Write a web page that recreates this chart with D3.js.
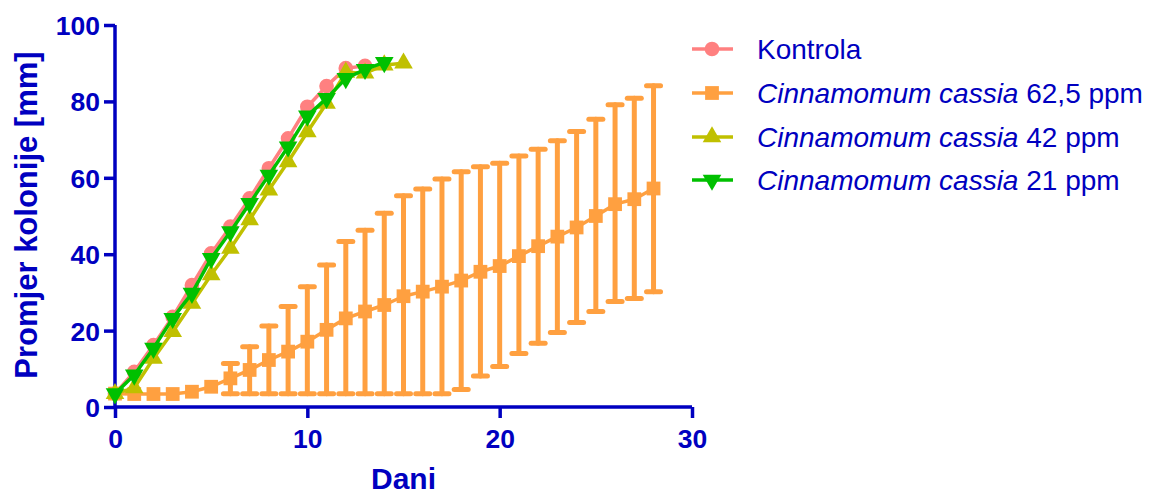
<!DOCTYPE html>
<html>
<head>
<meta charset="utf-8">
<script src="https://cdn.jsdelivr.net/npm/d3@7"></script>
<style>
  html, body { margin: 0; padding: 0; background: #fff; }
  svg { display: block; font-family: "Liberation Sans", Arial, sans-serif; }
</style>
</head>
<body>
<svg id="chart" width="1151" height="494"></svg>
<script>
// ---- data ----
const xTicks = [0, 10, 20, 30];
const yTicks = [0, 20, 40, 60, 80, 100];
const seriesNames = ["Kontrola", "Cinnamomum cassia|62,5 ppm", "Cinnamomum cassia|42 ppm", "Cinnamomum cassia|21 ppm"];

const kontrola = [3.5, 9.2, 16.2, 23.6, 31.9, 40.2, 47.2, 54.6, 62.5, 70.3, 78.6, 84.0, 88.7, 89.3];
const cc62 = [3.5, 3.4, 3.4, 3.4, 4.0, 5.3, 7.5, 9.7, 12.3, 14.5, 17.1, 20.2, 23.2, 25.0, 26.7, 29.0,
              30.2, 31.5, 33.1, 35.4, 36.9, 39.5, 42.1, 44.6, 47.0, 50.0, 53.1, 54.4, 57.2];
const cc62Hi = [null, null, null, null, null, null, 11.4, 15.8, 21.2, 26.3, 31.5, 37.2, 43.3, 46.3, 50.7, 55.3,
                57.1, 59.7, 61.6, 62.9, 63.8, 65.7, 67.5, 69.7, 72.1, 75.3, 79.1, 80.8, 84.1];
const cc62Lo = [null, null, null, null, null, null, 3.5, 3.5, 3.5, 3.5, 3.5, 3.5, 3.5, 3.5, 3.5, 3.5,
                3.5, 3.5, 4.6, 8.1, 10.6, 14.0, 16.7, 19.5, 22.1, 25.0, 27.6, 28.4, 30.2];
const cc42 = [3.5, 5.0, 12.7, 19.7, 27.1, 34.6, 41.5, 49.0, 56.8, 64.2, 72.0, 79.5, 87.6, 87.4, 89.5, 90.0];
const cc21 = [3.5, 8.4, 15.4, 23.2, 29.8, 38.9, 45.9, 53.3, 60.7, 68.1, 76.2, 80.8, 86.0, 88.4, 90.2];

// ---- setup ----
const svg = d3.select("#chart");
const axisColor = "#0000C0";
const x = d3.scaleLinear().domain([0, 30]).range([115, 692]);
const y = d3.scaleLinear().domain([0, 100]).range([407, 25]);

const colors = ["#FF8080", "#FFA040", "#C0C000", "#00C000"];
const symbols = [
  d3.symbol().type(d3.symbolCircle).size(170),
  d3.symbol().type(d3.symbolSquare).size(190),
  d3.symbol().type(d3.symbolTriangle).size(150),
  d3.symbol().type(d3.symbolTriangle).size(150)
];
const rotations = [0, 0, 0, 180];

// ---- axes ----
const xAxis = d3.axisBottom(x).tickValues(xTicks).tickSize(11).tickPadding(11).tickFormat(d3.format("d"));
const yAxis = d3.axisLeft(y).tickValues(yTicks).tickSize(11).tickPadding(4).tickFormat(d3.format("d"));

const gx = svg.append("g").attr("transform", `translate(0,${y(0)})`).call(xAxis);
const gy = svg.append("g").attr("transform", `translate(${x(0)},0)`).call(yAxis);
[gx, gy].forEach(g => {
  g.select(".domain").attr("stroke", axisColor).attr("stroke-width", 3.5).attr("d",
    g === gx ? `M${x(0)},0H${x(30)}` : `M0,${y(100)}V${y(0)}`);
  g.selectAll(".tick line").attr("stroke", axisColor).attr("stroke-width", 3.5);
  g.selectAll(".tick text").attr("fill", axisColor).attr("font-weight", "bold")
    .attr("font-size", 26.5).attr("font-family", "'Liberation Sans', Arial, sans-serif");
});
gx.selectAll(".tick text").attr("dy", "0.71em");
gy.selectAll(".tick text").attr("dy", "0.36em");

// axis titles
svg.append("text").attr("x", (x(0) + x(30)) / 2).attr("y", 489)
  .attr("text-anchor", "middle").attr("fill", axisColor).attr("font-weight", "bold")
  .attr("font-size", 30).text("Dani");
svg.append("text").attr("transform", `translate(37,215) rotate(-90)`)
  .attr("text-anchor", "middle").attr("fill", axisColor).attr("font-weight", "bold")
  .attr("font-size", 31).text("Promjer kolonije [mm]");

// ---- series ----
const allSeries = [kontrola, cc62, cc42, cc21];
const line = d3.line().x((d, i) => x(i)).y(d => y(d));

function drawSeries(vals, k) {
  const g = svg.append("g");
  if (k === 1) {
    // error bars for 62.5 ppm (drawn under its line/markers)
    const eb = g.append("g").attr("stroke", colors[1]).attr("stroke-width", 5).attr("stroke-linecap", "round");
    cc62Hi.forEach((hi, i) => {
      if (hi == null) return;
      const lo = cc62Lo[i];
      eb.append("line").attr("x1", x(i)).attr("x2", x(i)).attr("y1", y(hi)).attr("y2", y(lo));
      eb.append("line").attr("x1", x(i) - 7).attr("x2", x(i) + 7).attr("y1", y(hi)).attr("y2", y(hi));
      eb.append("line").attr("x1", x(i) - 7).attr("x2", x(i) + 7).attr("y1", y(lo)).attr("y2", y(lo));
    });
  }
  g.append("path").datum(vals).attr("d", line).attr("fill", "none")
    .attr("stroke", colors[k]).attr("stroke-width", 3.5).attr("stroke-linejoin", "round");
  g.selectAll("path.m").data(vals).enter().append("path").attr("class", "m")
    .attr("d", symbols[k])
    .attr("transform", (d, i) => `translate(${x(i)},${y(d)}) rotate(${rotations[k]})`)
    .attr("fill", colors[k]);
}
allSeries.forEach((vals, k) => drawSeries(vals, k));

// ---- legend ----
const legend = svg.append("g");
const legendY = [49, 93, 137, 180];
seriesNames.forEach((name, k) => {
  const gy0 = legendY[k];
  legend.append("line").attr("x1", 692).attr("x2", 733).attr("y1", gy0).attr("y2", gy0)
    .attr("stroke", colors[k]).attr("stroke-width", 3.5);
  legend.append("path").attr("d", symbols[k])
    .attr("transform", `translate(712,${gy0}) rotate(${rotations[k]})`).attr("fill", colors[k]);
  const t = legend.append("text").attr("x", 757).attr("y", gy0 + 9.5)
    .attr("fill", axisColor).attr("font-size", 28);
  const parts = name.split("|");
  if (parts.length === 1) {
    t.text(parts[0]);
  } else {
    t.append("tspan").attr("font-style", "italic").text(parts[0]);
    t.append("tspan").text(" " + parts[1]);
  }
});
</script>
</body>
</html>
